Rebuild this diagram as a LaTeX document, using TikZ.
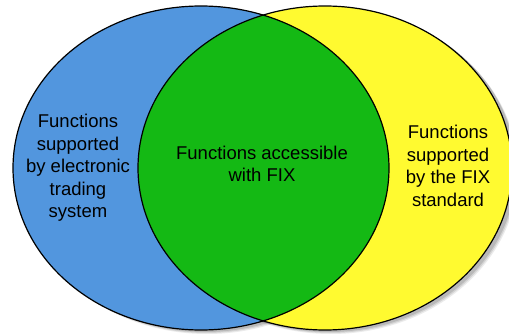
\documentclass[tikz,border=0pt]{standalone}
\usepackage{fontspec}
\setmainfont{Liberation Sans}
\definecolor{vblue}{RGB}{82,150,222}
\definecolor{vgreen}{RGB}{20,185,20}
\definecolor{vyellow}{RGB}{255,250,48}
\begin{document}
\begin{tikzpicture}[x=1pt,y=1pt,
  lbl/.style={align=center,font=\fontsize{18.5}{22.5}\selectfont,text=black},
  outline/.style={draw=black,line width=1.2pt}]
\useasboundingbox (0,0) rectangle (509,333);
\clip (0,0) rectangle (509,333);
% shadows
\foreach \s/\o in {4/0.08,3/0.10,2/0.12}{
  \fill[black,opacity=\o] (203+\s,165-\s) ellipse [x radius=188,y radius=162];
  \fill[black,opacity=\o] (327+\s,165-\s) ellipse [x radius=187,y radius=162];
}
\fill[white] (201,165) ellipse [x radius=188,y radius=162];
\fill[white] (325,165) ellipse [x radius=187,y radius=162];
% fills
\fill[vblue] (201,165) ellipse [x radius=188,y radius=162];
\fill[vyellow] (325,165) ellipse [x radius=187,y radius=162];
\begin{scope}
  \clip (201,165) ellipse [x radius=188,y radius=162];
  \fill[vgreen] (325,165) ellipse [x radius=187,y radius=162];
\end{scope}
\draw[outline] (201,165) ellipse [x radius=188,y radius=162];
\draw[outline] (325,165) ellipse [x radius=187,y radius=162];
% labels
\node[lbl] (left) at (78,165) {Functions\\supported\\by electronic\\trading\\system};
\node[lbl] (mid) at (262,169) {Functions accessible\\with FIX};
\node[lbl] (right) at (448,167) {Functions\\supported\\by the FIX\\standard};
\end{tikzpicture}
\end{document}
